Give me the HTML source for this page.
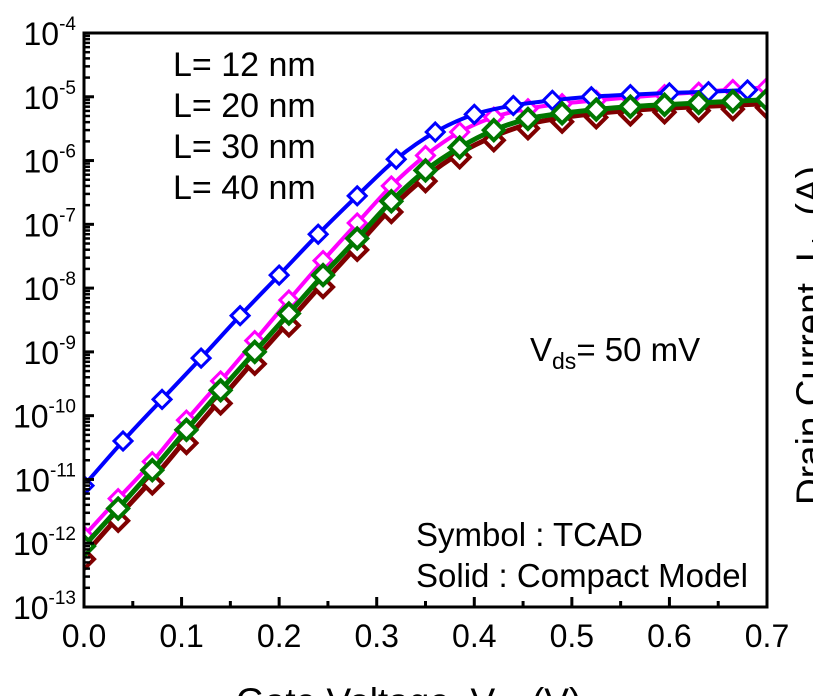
<!DOCTYPE html>
<html><head><meta charset="utf-8"><style>
html,body{margin:0;padding:0;background:#fff;}
svg{display:block;font-family:"Liberation Sans",Arial,sans-serif;}
</style></head><body>
<svg id="chart" width="813" height="696" viewBox="0 0 813 696">
<g id="marks"></g>
<g id="axes"></g>
<g id="labels"></g>
</svg>
<script>
const blueX=[0,0.04,0.08,0.12,0.16,0.2,0.24,0.28,0.32,0.36,0.4,0.44,0.48,0.52,0.56,0.6,0.64,0.68];
const blueY=[8e-12,4e-11,1.8e-10,8e-10,3.7e-9,1.6e-8,7e-8,2.8e-7,1.05e-6,2.8e-6,5.3e-6,7.3e-6,8.8e-6,1e-5,1.08e-5,1.15e-5,1.2e-5,1.28e-5];
const stdX=[0,0.035,0.07,0.105,0.14,0.175,0.21,0.245,0.28,0.315,0.35,0.385,0.42,0.455,0.49,0.525,0.56,0.595,0.63,0.665,0.7];
const magY=[1.3e-12,5e-12,1.9e-11,8.5e-11,3.5e-10,1.5e-9,6.5e-9,2.7e-8,1.05e-7,4e-7,1.2e-6,2.8e-6,4.8e-6,6.5e-6,7.8e-6,8.8e-6,9.8e-6,1.08e-5,1.18e-5,1.3e-5,1.4e-5];
const greenY=[9e-13,3.5e-12,1.4e-11,6e-11,2.5e-10,1e-9,4e-9,1.6e-8,6e-8,2.3e-7,7e-7,1.6e-6,3e-6,4.5e-6,5.5e-6,6.3e-6,7e-6,7.5e-6,8e-6,8.5e-6,9e-6];
const redY=[6.5e-13,2.6e-12,1e-11,4.3e-11,1.8e-10,7.5e-10,3e-9,1.2e-8,4.6e-8,1.8e-7,5.5e-7,1.3e-6,2.4e-6,3.7e-6,4.7e-6,5.5e-6,6.1e-6,6.6e-6,7e-6,7.4e-6,7.8e-6];
const yTickExp=[-4,-5,-6,-7,-8,-9,-10,-11,-12,-13];
const xTicks=[0,0.1,0.2,0.3,0.4,0.5,0.6,0.7];
const legendLabels=["L= 12 nm","L= 20 nm","L= 30 nm","L= 40 nm"];

const X0=84,X1=767,Y0=33,Y1=607;
function sx(v){return X0+v/0.7*(X1-X0);}
function sy(v){return Y0+(-4-Math.log10(v))*(Y1-Y0)/9;}
const NS="http://www.w3.org/2000/svg";
function mk(tag,attrs,parent){const e=document.createElementNS(NS,tag);for(const k in attrs)e.setAttribute(k,attrs[k]);parent.appendChild(e);return e;}
const marks=document.getElementById('marks'),axes=document.getElementById('axes'),labels=document.getElementById('labels');

function pathD(xs,ys,dx,dy){
  const p=xs.map((x,i)=>[sx(x)+dx,sy(ys[i])+dy]);
  let d="M"+p[0][0]+","+p[0][1];
  for(let i=0;i<p.length-1;i++){
    const a=p[Math.max(i-1,0)],b=p[i],c=p[i+1],e=p[Math.min(i+2,p.length-1)];
    const c1=[b[0]+(c[0]-a[0])/6,b[1]+(c[1]-a[1])/6],c2=[c[0]-(e[0]-b[0])/6,c[1]-(e[1]-b[1])/6];
    d+=" C"+c1[0]+","+c1[1]+" "+c2[0]+","+c2[1]+" "+c[0]+","+c[1];
  }
  return d;
}
function series(name,xs,ys,color,lw,ms,msw,dx,dy){
  const g=mk('g',{},marks);
  
  
  const l=mk('path',{d:pathD(xs,ys,0,0),fill:'none',stroke:color,'stroke-width':lw},g);
  
  
  xs.forEach((x,i)=>{
    const cx=sx(x)+dx,cy=sy(ys[i])+dy;
    if(cx>X1+2)return;
    const m=mk('polygon',{points:`${cx},${cy-ms} ${cx+ms},${cy} ${cx},${cy+ms} ${cx-ms},${cy}`,fill:'#fff',stroke:color,'stroke-width':msw},g);
    
    
  });
}
const clip=mk('clipPath',{id:'pc'},document.getElementById('chart'));
mk('rect',{x:X0,y:Y0,width:X1-X0,height:Y1-Y0},clip);
marks.setAttribute('clip-path','url(#pc)');
series('l40nm',stdX,redY,'#800000',5,10,4,0,4);
series('l20nm',stdX,magY,'#ff00ff',4,9,3,0,0);
series('l12nm',blueX,blueY,'#0000ff',4,9,3,0,0);
series('l30nm',stdX,greenY,'#007700',5,10,4,0,0);

const fr=mk('rect',{x:X0,y:Y0,width:X1-X0,height:Y1-Y0,fill:'none',stroke:'#000','stroke-width':3},axes);


yTickExp.forEach(e=>{
  const y=sy(Math.pow(10,e));
  mk('line',{x1:X0,x2:X0+10,y1:y,y2:y,stroke:'#000','stroke-width':3},axes);
  if(e>-13)for(let k=2;k<=9;k++){const yy=sy(k*Math.pow(10,e-1));mk('line',{x1:X0,x2:X0+6,y1:yy,y2:yy,stroke:'#000','stroke-width':2.5},axes);}
  const t=mk('text',{x:76,y:y+12,'font-size':'32px','text-anchor':'end'},labels);
  
  
  t.textContent='10';
  const s=mk('tspan',{dy:-15,'font-size':'19px'},t);s.textContent=String(e);
});
xTicks.forEach((v,i)=>{
  const x=sx(v);
  mk('line',{x1:x,x2:x,y1:Y1,y2:Y1-10,stroke:'#000','stroke-width':3},axes);
  if(i<xTicks.length-1){const xm=sx(v+0.05);mk('line',{x1:xm,x2:xm,y1:Y1,y2:Y1-6,stroke:'#000','stroke-width':3},axes);}
  const t=mk('text',{x:x,y:647,'font-size':'32px','text-anchor':'middle'},labels);
  
  
  t.textContent=v.toFixed(1);
});
legendLabels.forEach((s,i)=>{
  const t=mk('text',{x:173,y:76+i*41,'font-size':'34px'},labels);
  
  
  t.textContent=s;
});
</script>
<svg style="position:absolute;left:0;top:0" width="813" height="696">
<text x="530" y="361" font-size="33px" font-family="Liberation Sans,sans-serif">V<tspan font-size="23px" dy="8">ds</tspan><tspan dy="-8">= 50 mV</tspan></text>
<text x="416" y="546" font-size="33px" font-family="Liberation Sans,sans-serif">Symbol : TCAD</text>
<text x="416" y="587" font-size="33px" font-family="Liberation Sans,sans-serif">Solid : Compact Model</text>
<text x="236" y="714" font-size="37px" font-family="Liberation Sans,sans-serif">Gate Voltage, V<tspan font-size="25px" dy="8">gs</tspan><tspan dy="-8"> (V)</tspan></text>
<text transform="translate(822,505) rotate(-90)" font-size="37px" font-family="Liberation Sans,sans-serif">Drain Current, I<tspan font-size="25px" dy="8">ds</tspan><tspan dy="-8"> (A)</tspan></text>
</svg>
</body></html>
